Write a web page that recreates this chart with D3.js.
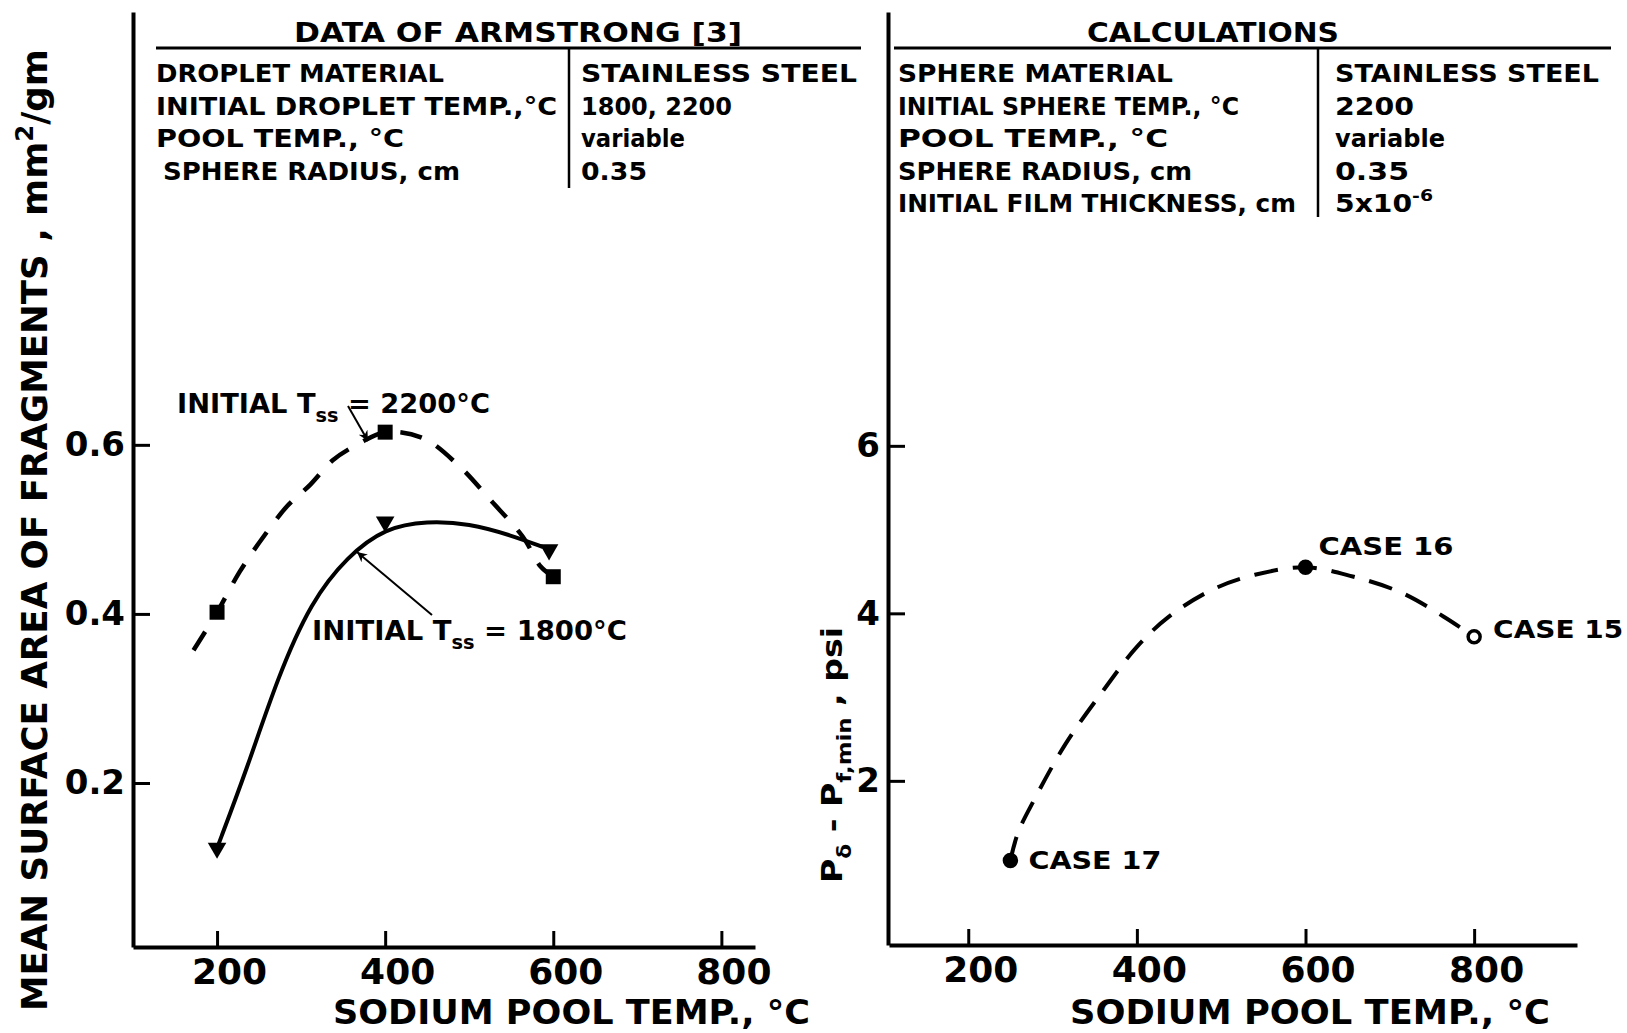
<!DOCTYPE html>
<html>
<head>
<meta charset="utf-8">
<script src="https://cdn.jsdelivr.net/npm/d3@7"></script>
<style>
body{margin:0;background:#fff}
svg{display:block}
text{font-family:"DejaVu Sans",sans-serif;font-weight:bold;fill:#000}
</style>
</head>
<body>
<div id="chart"></div>
<script>
// left panel: data of Armstrong
var temps2200 = [200, 400, 600];
var area2200 = [0.402, 0.615, 0.444];
var temps1800 = [200, 400, 595];
var area1800 = [0.123, 0.509, 0.476];
// hand faired curves through them
var fair2200T = [172, 200, 227, 255, 283, 311, 338, 370, 400, 445, 489, 525, 564, 585, 600];
var fair2200A = [0.357, 0.402, 0.450, 0.491, 0.527, 0.553, 0.582, 0.602, 0.615, 0.608, 0.574, 0.535, 0.491, 0.456, 0.444];
var fair1800T = [200, 235, 272, 312, 355, 400, 450, 500, 550, 588];
var fair1800A = [0.123, 0.215, 0.325, 0.415, 0.468, 0.502, 0.510, 0.507, 0.493, 0.479];

// right panel: calculations
var caseNames = ['CASE 17', 'CASE 16', 'CASE 15'];
var caseTemps = [250, 600, 800];
var caseDp = [1.05, 4.55, 3.72];
var calcT = [250, 259, 278, 316, 361, 400, 438, 489, 540, 600, 656, 713, 764, 800];
var calcDp = [1.05, 1.38, 1.77, 2.45, 3.09, 3.60, 3.96, 4.28, 4.46, 4.55, 4.44, 4.25, 3.96, 3.72];

var tempTicks = [200, 400, 600, 800];
var areaTicks = [0.2, 0.4, 0.6];
var dpTicks = [2, 4, 6];

var armRows = ['DROPLET MATERIAL', 'INITIAL DROPLET TEMP.,°C', 'POOL TEMP., °C', 'SPHERE RADIUS, cm'];
var armVals = ['STAINLESS STEEL', '1800, 2200', 'variable', '0.35'];
var calcRows = ['SPHERE MATERIAL', 'INITIAL SPHERE TEMP., °C', 'POOL TEMP., °C', 'SPHERE RADIUS, cm', 'INITIAL FILM THICKNESS, cm'];
var calcVals = ['STAINLESS STEEL', '2200', 'variable', '0.35', '5x10^-6'];

var width = 1627, height = 1033;

var svg = d3.select('#chart').append('svg')
	.attr('width', width)
	.attr('height', height);

var defs = svg.append('defs');
defs.append('marker')
	.attr('id', 'arr')
	.attr('viewBox', '0 0 10 10')
	.attr('refX', 10).attr('refY', 5)
	.attr('markerWidth', 14).attr('markerHeight', 10)
	.attr('markerUnits', 'userSpaceOnUse')
	.attr('orient', 'auto')
	.append('path').attr('d', 'M0,0L10,5L0,10L3,5z').attr('fill', '#000');

var xL = d3.scaleLinear().domain([100, 840]).range([133, 755]);
var yL = d3.scaleLinear().domain([0.006, 1.112]).range([947, 12]);
var xR = d3.scaleLinear().domain([106, 922]).range([889, 1577]);
var yR = d3.scaleLinear().domain([0.04, 11.18]).range([945, 12]);

// text helper: fits the text into a given width
function label(g, x, y, size, w, anchor) {
	var t = g.append('text')
		.attr('x', x).attr('y', y)
		.style('font-size', size + 'px')
		.attr('text-anchor', anchor || 'start');
	if (w) t.attr('textLength', w).attr('lengthAdjust', 'spacingAndGlyphs');
	return t;
}

function styleAxis(g, size) {
	g.select('.domain').attr('stroke', '#000').attr('stroke-width', 4);
	g.selectAll('.tick line').attr('stroke', '#000').attr('stroke-width', 3);
	g.selectAll('.tick text').style('font-size', size + 'px').attr('fill', '#000');
}

function xAxis(scale, y) {
	var g = svg.append('g')
		.attr('transform', 'translate(0,' + y + ')')
		.call(d3.axisBottom(scale).tickValues(tempTicks).tickSizeInner(-16).tickSizeOuter(0).tickPadding(11));
	styleAxis(g, 36);
	g.selectAll('.tick text').attr('x', 12);
}

function yAxis(scale, x, ticks, fmt) {
	var g = svg.append('g')
		.attr('transform', 'translate(' + x + ',0)')
		.call(d3.axisLeft(scale).tickValues(ticks).tickFormat(fmt).tickSizeInner(-17).tickSizeOuter(0).tickPadding(8));
	styleAxis(g, 34);
}

xAxis(xL, 947);
yAxis(yL, 133, areaTicks, d3.format('.1f'));
xAxis(xR, 945);
yAxis(yR, 888, dpTicks, d3.format('d'));

// axis titles
label(svg, 333, 1024, 34, 477).text('SODIUM  POOL  TEMP., °C');
label(svg, 1070, 1024, 34, 480).text('SODIUM  POOL  TEMP., °C');

var yt = svg.append('text')
	.attr('transform', 'translate(47,530) rotate(-90)')
	.attr('text-anchor', 'middle')
	.style('font-size', '35px')
	.attr('textLength', 962).attr('lengthAdjust', 'spacingAndGlyphs');
yt.append('tspan').text('MEAN SURFACE AREA OF FRAGMENTS , mm');
yt.append('tspan').attr('dy', -14).style('font-size', '24px').text('2');
yt.append('tspan').attr('dy', 14).text('/gm');

var pt = svg.append('text')
	.attr('transform', 'translate(842,755) rotate(-90)')
	.attr('text-anchor', 'middle')
	.style('font-size', '29px')
	.attr('textLength', 256).attr('lengthAdjust', 'spacingAndGlyphs');
pt.append('tspan').text('P');
pt.append('tspan').attr('dy', 9).style('font-size', '19px').text('δ');
pt.append('tspan').attr('dy', -9).text(' - P');
pt.append('tspan').attr('dy', 9).style('font-size', '20px').text('f,min');
pt.append('tspan').attr('dy', -9).text(' , psi');

// tables above the plots
function table(x0, x1, xDiv, yBot, xLab, xVal, rows, vals, labW, valW) {
	svg.append('line').attr('x1', x0).attr('x2', x1).attr('y1', 48).attr('y2', 48)
		.attr('stroke', '#000').attr('stroke-width', 3);
	svg.append('line').attr('x1', xDiv).attr('x2', xDiv).attr('y1', 48).attr('y2', yBot)
		.attr('stroke', '#000').attr('stroke-width', 2.5);
	rows.forEach(function(r, i) {
		var y = 82 + i * 32.5;
		label(svg, xLab[i], y, 24, labW[i]).text(r);
		var parts = vals[i].split('^');
		var t = label(svg, xVal, y, 24, valW[i]);
		t.append('tspan').text(parts[0]);
		if (parts[1]) t.append('tspan').attr('dy', -11).style('font-size', '16px').text(parts[1]);
	});
}
table(156, 861, 569, 188, [156, 156, 156, 163], 581, armRows, armVals,
	[288, 401, 248, 297], [276, 151, 104, 66]);
table(894, 1611, 1318, 217, [898, 898, 898, 898, 898], 1335, calcRows, calcVals,
	[275, 341, 270, 294, 398], [264, 79, 110, 74, 98]);
label(svg, 294, 42, 26, 448).text('DATA  OF  ARMSTRONG   [3]');
label(svg, 1213, 42, 26, 252, 'middle').text('CALCULATIONS');

// left panel curves
function lineOf(xs, ys, curve) {
	return d3.line().x(function(d) {return xs(d[0]);}).y(function(d) {return ys(d[1]);}).curve(curve);
}
svg.append('path')
	.attr('d', lineOf(xL, yL, d3.curveCatmullRom)(d3.zip(fair2200T, fair2200A)))
	.attr('fill', 'none').attr('stroke', '#000').attr('stroke-width', 4.5)
	.attr('stroke-dasharray', '22 17');
svg.append('path')
	.attr('d', lineOf(xL, yL, d3.curveBasis)(d3.zip(fair1800T, fair1800A)))
	.attr('fill', 'none').attr('stroke', '#000').attr('stroke-width', 4);

svg.selectAll('.sq').data(d3.zip(temps2200, area2200)).enter().append('path')
	.attr('class', 'sq')
	.attr('transform', function(d) {return 'translate(' + xL(d[0]) + ',' + yL(d[1]) + ')';})
	.attr('d', d3.symbol().type(d3.symbolSquare).size(225))
	.attr('fill', '#000');
svg.selectAll('.tri').data(d3.zip(temps1800, area1800)).enter().append('path')
	.attr('class', 'tri')
	.attr('transform', function(d) {return 'translate(' + xL(d[0]) + ',' + yL(d[1]) + ') rotate(180)';})
	.attr('d', d3.symbol().type(d3.symbolTriangle).size(150))
	.attr('fill', '#000');

// annotations
var a1 = label(svg, 177, 413, 27, 313);
a1.append('tspan').text('INITIAL  T');
a1.append('tspan').attr('dy', 9).style('font-size', '19px').text('ss');
a1.append('tspan').attr('dy', -9).text(' = 2200°C');
svg.append('line').attr('x1', 348).attr('y1', 406).attr('x2', 368).attr('y2', 441)
	.attr('stroke', '#000').attr('stroke-width', 2).attr('marker-end', 'url(#arr)');

var a2 = label(svg, 312, 640, 27, 315);
a2.append('tspan').text('INITIAL  T');
a2.append('tspan').attr('dy', 9).style('font-size', '19px').text('ss');
a2.append('tspan').attr('dy', -9).text('  =  1800°C');
svg.append('line').attr('x1', 432).attr('y1', 615).attr('x2', 357).attr('y2', 552)
	.attr('stroke', '#000').attr('stroke-width', 2).attr('marker-end', 'url(#arr)');

// right panel
svg.append('path')
	.attr('d', lineOf(xR, yR, d3.curveCatmullRom)(d3.zip(calcT, calcDp)))
	.attr('fill', 'none').attr('stroke', '#000').attr('stroke-width', 4)
	.attr('stroke-dasharray', '24 15');

var caseFill = ['#000', '#000', '#fff'];
var caseOff = [[18, 9], [13, -12], [19, 1]];
var caseW = [133, 135, 130];
svg.selectAll('.case').data(caseNames).enter().append('circle')
	.attr('class', 'case')
	.attr('cx', function(d, i) {return xR(caseTemps[i]);})
	.attr('cy', function(d, i) {return yR(caseDp[i]);})
	.attr('r', 6)
	.attr('fill', function(d, i) {return caseFill[i];})
	.attr('stroke', '#000').attr('stroke-width', 3.5);
caseNames.forEach(function(n, i) {
	label(svg, xR(caseTemps[i]) + caseOff[i][0], yR(caseDp[i]) + caseOff[i][1], 25, caseW[i]).text(n);
});
</script>
</body>
</html>
